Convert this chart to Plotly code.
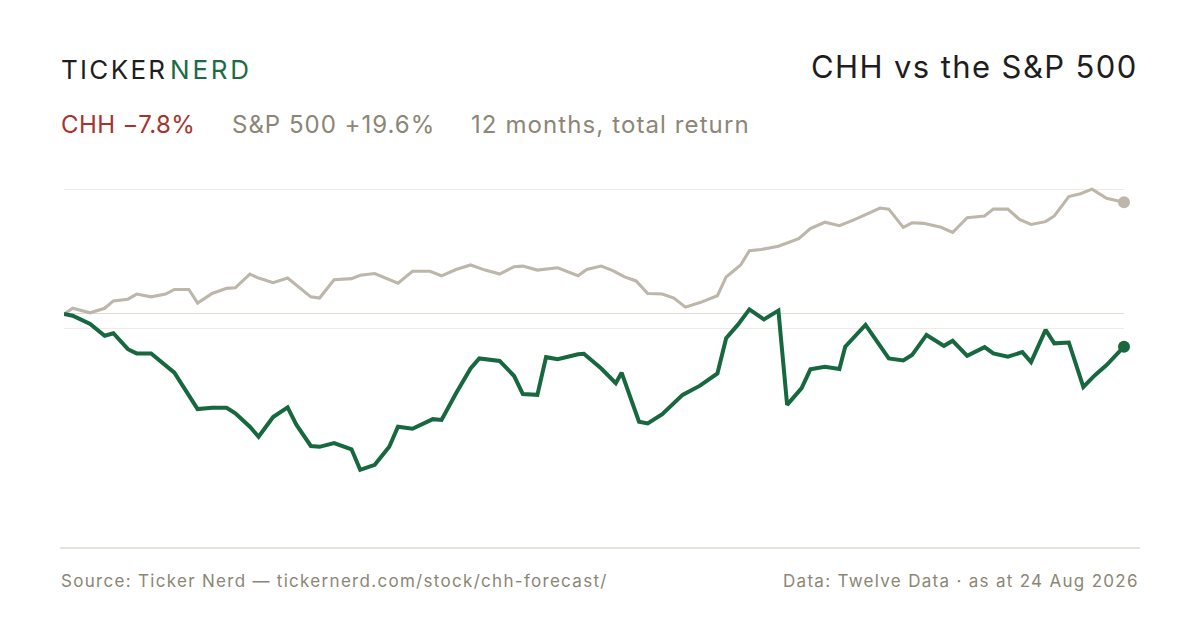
import pandas as pd
import plotly.graph_objects as go

# 12 months of total return (%), sampled every few trading days
start = pd.Timestamp("2025-08-24")

sp_days = [0, 3, 9, 14, 17, 22, 25, 30, 35, 38, 43, 46, 51, 56, 59, 64, 67, 72, 77, 81,
           85, 88, 93, 99, 102, 107, 115, 120, 126, 130, 135, 140, 145, 150, 155, 158,
           163, 170, 177, 180, 185, 189, 193, 197, 201, 206, 210, 214, 219, 225, 228,
           233, 236, 240, 246, 253, 257, 262, 267, 272, 276, 281, 284, 289, 292, 296,
           302, 306, 311, 317, 320, 325, 329, 333, 338, 341, 346, 350, 354, 359, 365]
sp_ret = [0.0, 1.0, 0.2, 1.0, 2.3, 2.6, 3.5, 3.0, 3.5, 4.3, 4.3, 1.9, 3.6, 4.5, 4.6, 7.0,
          6.3, 5.5, 6.3, 4.6, 3.0, 2.8, 6.0, 6.2, 6.8, 7.1, 5.4, 7.5, 7.5, 6.7, 7.8, 8.6,
          7.7, 7.0, 8.3, 8.4, 7.7, 8.1, 6.7, 7.8, 8.4, 7.6, 6.5, 5.8, 3.6, 3.5, 2.8, 1.2,
          2.0, 3.2, 6.5, 8.6, 11.1, 11.3, 11.9, 13.2, 15.0, 16.1, 15.5, 16.5, 17.5, 18.6,
          18.4, 15.2, 16.0, 15.9, 15.2, 14.3, 16.9, 17.2, 18.4, 18.4, 16.6, 15.7, 16.2,
          17.2, 20.6, 21.1, 21.9, 20.3, 19.6]

chh_days = [0, 3, 9, 14, 17, 22, 25, 30, 38, 43, 46, 51, 56, 59, 64, 67, 72, 77, 80, 85,
            88, 93, 99, 102, 107, 112, 115, 120, 127, 130, 133, 135, 140, 143, 150, 155,
            158, 163, 166, 170, 177, 179, 185, 190, 192, 198, 201, 206, 213, 219, 225,
            228, 232, 236, 241, 246, 249, 254, 257, 262, 267, 269, 276, 284, 289, 292,
            297, 303, 306, 311, 317, 320, 325, 330, 333, 338, 341, 346, 351, 355, 359,
            363, 365]
chh_ret = [0.0, -0.4, -2.4, -5.2, -4.6, -8.4, -9.4, -9.4, -14.0, -19.7, -22.7, -22.4,
           -22.4, -23.7, -26.9, -29.3, -24.6, -22.3, -26.4, -31.5, -31.7, -30.8, -32.3,
           -37.2, -36.0, -31.7, -26.9, -27.4, -25.1, -25.3, -21.2, -18.9, -13.0, -10.6,
           -11.2, -14.8, -19.1, -19.3, -10.3, -10.8, -9.6, -9.5, -13.0, -16.5, -14.0,
           -25.7, -26.1, -23.9, -19.3, -17.1, -14.2, -5.8, -2.6, 1.1, -1.3, 0.8, -21.7,
           -17.7, -13.2, -12.6, -13.1, -7.8, -2.6, -10.6, -11.1, -9.8, -5.0, -7.6, -6.4,
           -10.0, -7.9, -9.4, -10.2, -9.1, -11.5, -3.8, -7.0, -6.8, -17.4, -14.6, -12.2,
           -9.4, -7.8]

sp_dates = start + pd.to_timedelta(sp_days, unit="D")
chh_dates = start + pd.to_timedelta(chh_days, unit="D")

GREEN = "#17673f"
GREY_LINE = "#bdb6aa"
MUTED = "#8b8676"
RED = "#a8322d"
INK = "#1e1e1e"
FONT = "Inter"

fig = go.Figure()
fig.add_trace(go.Scatter(x=sp_dates, y=sp_ret, mode="lines",
                         line=dict(color=GREY_LINE, width=3.1), yaxis="y"))
fig.add_trace(go.Scatter(x=chh_dates, y=chh_ret, mode="lines",
                         line=dict(color=GREEN, width=4), yaxis="y2"))
fig.add_trace(go.Scatter(x=sp_dates[-1:], y=sp_ret[-1:], mode="markers", cliponaxis=False,
                         marker=dict(color=GREY_LINE, size=12), yaxis="y"))
fig.add_trace(go.Scatter(x=chh_dates[-1:], y=chh_ret[-1:], mode="markers", cliponaxis=False,
                         marker=dict(color=GREEN, size=12), yaxis="y2"))

# plot area in pixels: x 64..1124, y 170..548
T, B = 170, 548


def py(p):
    return (B - p) / (B - T)


def px(p):
    return (p - 64) / 1060


def spaced(s, ls, color=None):
    style = f"letter-spacing:{ls}px"
    if color:
        style += f";color:{color}"
    return f'<span style="{style}">{s}</span>'


ann = [
    dict(x=px(59), y=py(70), xanchor="left", text=spaced("TICKER", 2.3),
         font=dict(family=FONT, size=26, color=INK)),
    dict(x=px(168), y=py(70), xanchor="left", text=spaced("NERD", 2.8, "#1d6b45"),
         font=dict(family=FONT, size=26, color=INK)),
    dict(x=px(1140), y=py(66), xanchor="right", text=spaced("CHH vs the S&P 500", 1.4),
         font=dict(family=FONT, size=31, color=INK)),
    dict(x=px(59), y=py(124), xanchor="left", text=spaced("CHH \u22127.8%", 0.4),
         font=dict(family=FONT, size=24, color=RED)),
    dict(x=px(230), y=py(124), xanchor="left", text=spaced("S&P 500 +19.6%", 1.0),
         font=dict(family=FONT, size=24, color=MUTED)),
    dict(x=px(469), y=py(124), xanchor="left", text=spaced("12 months, total return", 1.1),
         font=dict(family=FONT, size=24, color=MUTED)),
    dict(x=px(59), y=py(581), xanchor="left",
         text=spaced("Source: Ticker Nerd \u2014 tickernerd.com/stock/chh-forecast/", 1.3),
         font=dict(family=FONT, size=17, color=MUTED)),
    dict(x=px(1141), y=py(581), xanchor="right",
         text=spaced("Data: Twelve Data \u00b7 as at 24 Aug 2026", 1.3),
         font=dict(family=FONT, size=17, color=MUTED)),
]
for a in ann:
    a.update(xref="paper", yref="paper", yanchor="middle", showarrow=False)

fig.update_layout(
    width=1200, height=630,
    margin=dict(l=64, r=76, t=T, b=630 - B),
    paper_bgcolor="white", plot_bgcolor="white",
    showlegend=False, hovermode=False,
    annotations=ann,
    xaxis=dict(range=[start, start + pd.Timedelta(days=365)], showgrid=False,
               zeroline=False, showticklabels=False, ticks="", showline=False),
    yaxis=dict(range=[-41.05, 25.26], tickvals=[-2.6, 21.9], showticklabels=False,
               showgrid=True, gridcolor="#eeebe5", gridwidth=1.2,
               zeroline=True, zerolinecolor="#e2ddd2", zerolinewidth=1.2, fixedrange=True),
    yaxis2=dict(range=[-55.85, 34.37], overlaying="y", showgrid=False, zeroline=False,
                showticklabels=False, fixedrange=True),
    shapes=[dict(type="line", xref="paper", yref="paper", x0=px(60), x1=px(1140),
                 y0=0, y1=0, line=dict(color="#dedad0", width=1.5))],
)

fig.write_html("out.html", config={"displayModeBar": False},
               post_script="document.body.style.margin='0';")
